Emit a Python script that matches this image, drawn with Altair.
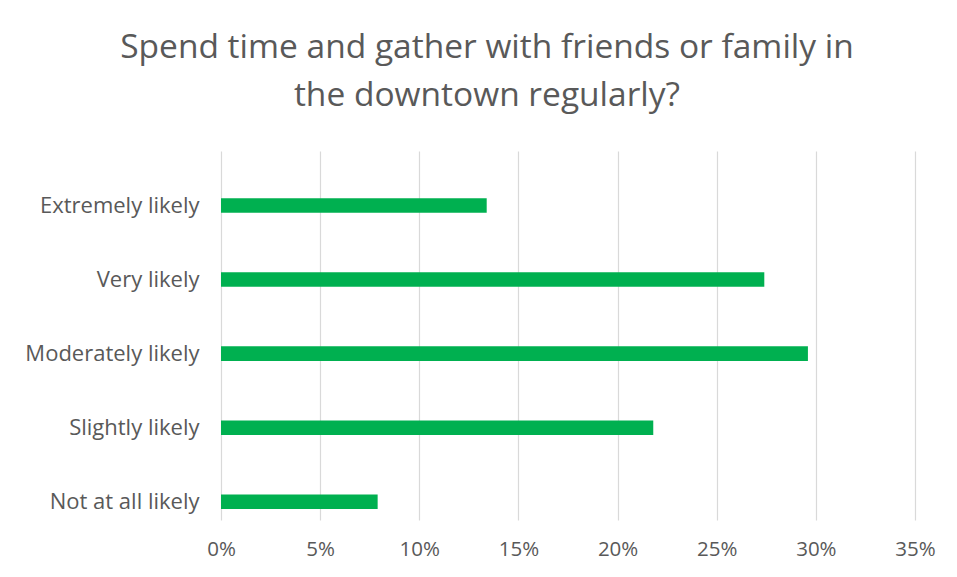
import altair as alt
import pandas as pd

categories = ["Extremely likely", "Very likely", "Moderately likely", "Slightly likely", "Not at all likely"]
values = [0.134, 0.274, 0.296, 0.218, 0.079]
tick_values = [0, 0.05, 0.10, 0.15, 0.20, 0.25, 0.30, 0.35]

df = pd.DataFrame({"category": categories, "value": values})

FONT = "Open Sans"

chart = alt.Chart(df).mark_bar(color="#00B050").encode(
    x=alt.X("value:Q",
            scale=alt.Scale(domain=[0, 0.35], nice=False),
            axis=alt.Axis(format=".0%", values=tick_values,
                          title=None, domain=False, ticks=False, grid=True,
                          gridColor="#D9D9D9", gridWidth=1.2,
                          labelFont=FONT, labelFontSize=20.5, labelColor="#595959",
                          labelPadding=19, labelFlush=False)),
    y=alt.Y("category:N", sort=categories,
            scale=alt.Scale(paddingInner=0.804, paddingOuter=0.395, align=0.81),
            axis=alt.Axis(title=None, domain=False, ticks=False,
                          labelFont=FONT, labelFontSize=22, labelColor="#595959",
                          labelPadding=22)),
).properties(
    width=694,
    height=369,
    autosize=alt.AutoSizeParams(type="none"),
    padding={"left": 213, "top": 143, "right": 34, "bottom": 49},
    title=alt.TitleParams(
        text=["Spend time and gather with friends or family in", "the downtown regularly?"],
        font=FONT, fontSize=33.5, fontWeight="normal", color="#595959",
        anchor="middle", dx=-81, lineHeight=48, offset=38,
    ),
).configure_view(stroke=None)

chart.save("out.html", embed_options={"renderer": "svg", "actions": False})
